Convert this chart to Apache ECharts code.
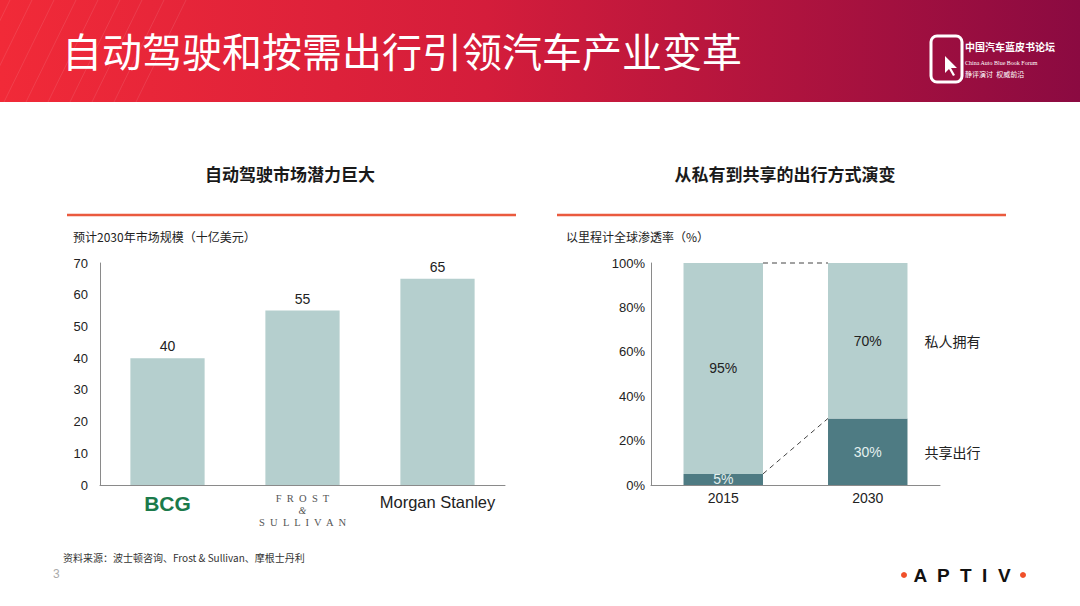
<!DOCTYPE html>
<html>
<head>
<meta charset="utf-8">
<script src="https://cdn.jsdelivr.net/npm/echarts@6/dist/echarts.min.js"></script>
<style>
html,body{margin:0;padding:0;background:#fff;}
#chart{width:1080px;height:606px;}
</style>
</head>
<body>
<div id="chart"></div>
<script>
// ---- data ----
var pageTitle = '自动驾驶和按需出行引领汽车产业变革';
var leftTitle = '自动驾驶市场潜力巨大';
var leftUnit = '预计2030年市场规模（十亿美元）';
var brands = ['BCG', 'Frost & Sullivan', 'Morgan Stanley'];
var marketSize = [40, 55, 65];
var leftTicks = {min: 0, max: 70, interval: 10};

var rightTitle = '从私有到共享的出行方式演变';
var rightUnit = '以里程计全球渗透率（%）';
var years = ['2015', '2030'];
var sharedShare = [5, 30];
var privateShare = [95, 70];
var segmentNames = ['共享出行', '私人拥有'];
var rightTicks = {min: 0, max: 100, interval: 20};

var sourceNote = '资料来源：波士顿咨询、Frost & Sullivan、摩根士丹利';
var pageNo = '3';

// ---- chart ----
var CJK = '"Noto Sans CJK SC", sans-serif';
var SANS = '"Liberation Sans", Arial, sans-serif';
var chart = echarts.init(document.getElementById('chart'), null, {renderer: 'svg'});

var lastIdx = years.length - 1;
var connectors = [
  [0, lastIdx, sharedShare[0], sharedShare[lastIdx]],
  [0, lastIdx, sharedShare[0] + privateShare[0], sharedShare[lastIdx] + privateShare[lastIdx]]
];
var sideLabels = [
  [lastIdx, sharedShare[lastIdx] / 2],
  [lastIdx, sharedShare[lastIdx] + privateShare[lastIdx] / 2]
];

var stripes = [];
for (var i = 0; i < 9; i++) {
  stripes.push({
    type: 'line', silent: true,
    shape: {x1: -40 + i * 22, y1: 102, x2: 10 + i * 22, y2: 0},
    style: {stroke: 'rgba(255,255,255,0.10)', lineWidth: 1}
  });
}

var option = {
  animation: false,
  backgroundColor: '#ffffff',
  graphic: [
    {
      type: 'rect', shape: {x: 0, y: 0, width: 1080, height: 102}, silent: true,
      style: {
        fill: new echarts.graphic.LinearGradient(0, 0, 1, 0, [
          {offset: 0, color: '#f12a38'},
          {offset: 0.45, color: '#d41d3b'},
          {offset: 1, color: '#8b0a41'}
        ])
      }
    }
  ].concat(stripes).concat([
    {type: 'text', x: 62, y: 50, style: {text: pageTitle, fill: '#ffffff', font: 'normal 40px ' + CJK, verticalAlign: 'middle'}},
    // header logo
    {type: 'rect', shape: {x: 931, y: 36, width: 31, height: 46, r: 6}, style: {fill: 'none', stroke: '#ffffff', lineWidth: 3}},
    {type: 'polygon', shape: {points: [[945, 56], [945, 73], [949, 69], [953, 76], [955, 75], [951, 68], [957, 68]]}, style: {fill: '#ffffff'}},
    {type: 'text', x: 965, y: 46, style: {text: '中国汽车蓝皮书论坛', fill: '#ffffff', font: 'bold 10px ' + CJK, verticalAlign: 'middle'}},
    {type: 'text', x: 965, y: 63, style: {text: 'China Auto Blue Book Forum', fill: '#ffffff', font: 'normal 6px "Liberation Serif", serif', verticalAlign: 'middle'}},
    {type: 'text', x: 965, y: 74, style: {text: '静评演讨  权威前沿', fill: '#ffffff', font: 'normal 7px ' + CJK, verticalAlign: 'middle'}},

    // section titles
    {type: 'text', x: 290, y: 173, style: {text: leftTitle, fill: '#1a1a1a', font: 'bold 17px ' + CJK, align: 'center', verticalAlign: 'middle'}},
    {type: 'text', x: 785, y: 173, style: {text: rightTitle, fill: '#1a1a1a', font: 'bold 17px ' + CJK, align: 'center', verticalAlign: 'middle'}},
    {type: 'line', shape: {x1: 67, y1: 215, x2: 516, y2: 215}, style: {stroke: '#ea5a3e', lineWidth: 2.5}},
    {type: 'line', shape: {x1: 557, y1: 215, x2: 1006, y2: 215}, style: {stroke: '#ea5a3e', lineWidth: 2.5}},
    {type: 'text', x: 73, y: 236, style: {text: leftUnit, fill: '#222', font: 'normal 12px ' + CJK, verticalAlign: 'middle'}},
    {type: 'text', x: 566, y: 236, style: {text: rightUnit, fill: '#222', font: 'normal 12px ' + CJK, verticalAlign: 'middle'}},

    // footer
    {type: 'text', x: 63, y: 557, style: {text: sourceNote, fill: '#333', font: 'normal 10px ' + CJK, verticalAlign: 'middle'}},
    {type: 'text', x: 53, y: 574, style: {text: pageNo, fill: '#aaaaaa', font: 'normal 12px ' + SANS, verticalAlign: 'middle'}},
    {type: 'text', x: 962, y: 575, style: {text: 'A  P  T  I  V', fill: '#111', font: 'bold 19px ' + SANS, align: 'center', verticalAlign: 'middle'}},
    {type: 'circle', shape: {cx: 904, cy: 575, r: 3}, style: {fill: '#f0502a'}},
    {type: 'circle', shape: {cx: 1023, cy: 575, r: 3}, style: {fill: '#f0502a'}}
  ]),
  grid: [
    {left: 100, top: 263, width: 405, height: 222},
    {left: 651, top: 263, width: 289, height: 222}
  ],
  xAxis: [
    {
      type: 'category', gridIndex: 0, data: brands,
      axisLine: {lineStyle: {color: '#8a8a8a', width: 1}},
      axisTick: {show: false},
      axisLabel: {
        margin: 7, interval: 0,
        formatter: function (v, i) {
          if (i === 0) return '{bcg|BCG}';
          if (i === 1) return '{fs|F  R  O  S  T}\n{amp|&}\n{fs|S  U  L  L  I  V  A  N}';
          return '{ms|Morgan Stanley}';
        },
        rich: {
          bcg: {fontSize: 21, fontWeight: 'bold', color: '#1b7a4b', fontFamily: SANS, padding: [1, 0, 0, 0]},
          fs: {fontSize: 10.5, color: '#555', fontFamily: '"Liberation Serif", serif', lineHeight: 12},
          amp: {fontSize: 10, color: '#555', fontFamily: '"Liberation Serif", serif', fontStyle: 'italic', lineHeight: 12},
          ms: {fontSize: 16.5, color: '#222', fontFamily: SANS, padding: [1, 0, 0, 0]}
        }
      }
    },
    {
      type: 'category', gridIndex: 1, data: years,
      axisLine: {lineStyle: {color: '#8a8a8a', width: 1}},
      axisTick: {show: false},
      axisLabel: {margin: 6, color: '#222', fontSize: 14, fontFamily: SANS}
    }
  ],
  yAxis: [
    {
      type: 'value', gridIndex: 0, min: leftTicks.min, max: leftTicks.max, interval: leftTicks.interval,
      axisLine: {show: true, lineStyle: {color: '#8a8a8a'}},
      axisTick: {show: false}, splitLine: {show: false},
      axisLabel: {margin: 12, color: '#222', fontSize: 13, fontFamily: SANS}
    },
    {
      type: 'value', gridIndex: 1, min: rightTicks.min, max: rightTicks.max, interval: rightTicks.interval,
      axisLine: {show: true, lineStyle: {color: '#8a8a8a'}},
      axisTick: {show: false}, splitLine: {show: false},
      axisLabel: {margin: 6, color: '#222', fontSize: 13, fontFamily: SANS, formatter: '{value}%'}
    }
  ],
  series: [
    {
      type: 'bar', xAxisIndex: 0, yAxisIndex: 0, data: marketSize, barWidth: '55%',
      itemStyle: {color: '#b5cfce'},
      label: {show: true, position: 'top', distance: 5, color: '#222', fontSize: 14, fontFamily: SANS}
    },
    {
      name: segmentNames[0], type: 'bar', xAxisIndex: 1, yAxisIndex: 1, stack: 'mode', data: sharedShare, barWidth: '55%',
      itemStyle: {color: '#4e7b83'},
      label: {show: true, position: 'inside', color: '#e4f0ef', fontSize: 14, fontFamily: SANS, formatter: '{c}%'}
    },
    {
      name: segmentNames[1], type: 'bar', xAxisIndex: 1, yAxisIndex: 1, stack: 'mode', data: privateShare, barWidth: '55%',
      itemStyle: {color: '#b5cfce'},
      label: {show: true, position: 'inside', color: '#222', fontSize: 14, fontFamily: SANS, formatter: '{c}%'}
    },
    {
      type: 'custom', xAxisIndex: 1, yAxisIndex: 1, z: 5, silent: true,
      data: connectors,
      renderItem: function (params, api) {
        var p0 = api.coord([api.value(0), api.value(2)]);
        var p1 = api.coord([api.value(1), api.value(3)]);
        var hw = api.size([1, 0])[0] * 0.55 / 2;
        return {
          type: 'line',
          shape: {x1: p0[0] + hw, y1: p0[1], x2: p1[0] - hw, y2: p1[1]},
          style: {stroke: '#444', lineWidth: 1, lineDash: [5, 4]}
        };
      }
    },
    {
      type: 'custom', xAxisIndex: 1, yAxisIndex: 1, z: 5, silent: true,
      data: sideLabels,
      renderItem: function (params, api) {
        var p = api.coord([api.value(0), api.value(1)]);
        var hw = api.size([1, 0])[0] * 0.55 / 2;
        return {
          type: 'text', x: p[0] + hw + 17, y: p[1],
          style: {text: segmentNames[params.dataIndex], fill: '#222', font: 'normal 14px ' + CJK, verticalAlign: 'middle', align: 'left'}
        };
      }
    }
  ]
};
chart.setOption(option);
</script>
</body>
</html>
